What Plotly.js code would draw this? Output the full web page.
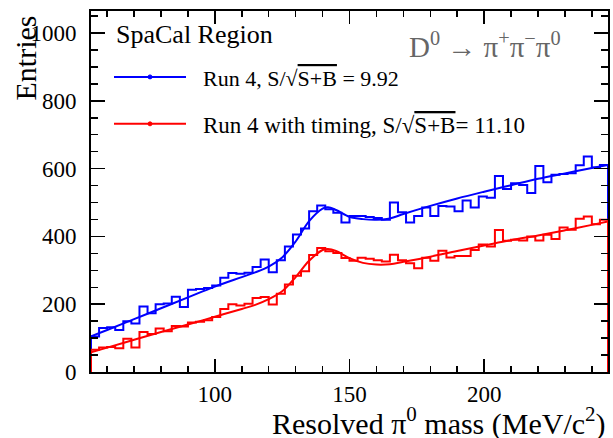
<!DOCTYPE html>
<html>
<head>
<meta charset="utf-8">
<script src="https://cdn.plot.ly/plotly-3.0.1.min.js"></script>
<style>html,body{margin:0;padding:0;background:#fff;}#chart{width:613px;height:438px;}</style>
</head>
<body>
<div id="chart"></div>
<script>
// Histogram binning (MeV/c^2)
const binLow = 54;
const binWidth = 3;
// Run 4 (blue) entries per bin
const run4Counts = [105,130,132,124,150,143,193,173,200,202,222,192,243,245,248,255,
  278,292,290,293,310,332,294,330,370,406,423,474,491,480,470,441,
  460,460,457,454,449,500,471,441,460,485,460,490,488,474,506,485,
  518,514,578,540,557,552,528,608,560,582,584,586,610,636,603,611];
// Run 4 with timing (red) entries per bin
const timingCounts = [66,72,74,70,98,72,118,112,128,120,136,134,146,148,153,162,
  186,200,196,201,218,221,199,231,258,284,297,345,366,356,351,336,
  328,337,334,330,326,346,330,321,306,337,328,358,338,342,342,360,
  376,370,419,387,390,388,400,388,405,392,426,420,452,459,436,449];
// Fit curves
const fitMass = [54,60,70,80,90,100,110,115,120,125,130,135,140,142,145,150,155,160,165,170,180,190,200,210,220,230,240,246];
const run4Fit = [105,124,156,188,220,252,280,294,311,338,385,445,482,486,478,458,451,449,453,466,490,512,532,551,570,586,602,611];
const timingFit = [58,72,95,118,140,163,186,198,215,238,280,328,360,363,357,336,322,317,318,325,340,357,373,389,403,418,434,444];
const legendLabels = ['Run 4, S/√<span style="text-decoration:overline">S+B</span> = 9.92',
                      'Run 4 with timing, S/√<span style="text-decoration:overline">S+B</span>= 11.10'];
const xTitle = 'Resolved π<sup>0</sup> mass (MeV/c<sup>2</sup>)';
const yTitle = 'Entries';
const regionLabel = 'SpaCal Region';
const decayLabel = 'D<sup>0</sup> → π<sup>+</sup>π<sup>−</sup>π<sup>0</sup>';

const BLUE = '#0000ff', RED = '#ff0000';
const FONT = 'Liberation Serif';

function stepXY(counts) {
  const xs = [binLow], ys = [0];
  counts.forEach((c, i) => { xs.push(binLow + i * binWidth); ys.push(c); });
  const hi = binLow + counts.length * binWidth;
  xs.push(hi); ys.push(counts[counts.length - 1]);
  xs.push(hi); ys.push(0);
  return {xs, ys};
}
const h1 = stepXY(run4Counts), h2 = stepXY(timingCounts);
const xMax = binLow + run4Counts.length * binWidth;

const traces = [
  {x: h1.xs, y: h1.ys, type: 'scatter', mode: 'lines', line: {shape: 'hv', color: BLUE, width: 2}, showlegend: false, hoverinfo: 'skip'},
  {x: h2.xs, y: h2.ys, type: 'scatter', mode: 'lines', line: {shape: 'hv', color: RED, width: 2}, showlegend: false, hoverinfo: 'skip'},
  {x: fitMass, y: run4Fit, type: 'scatter', mode: 'lines', line: {shape: 'spline', color: BLUE, width: 2}, showlegend: false},
  {x: fitMass, y: timingFit, type: 'scatter', mode: 'lines', line: {shape: 'spline', color: RED, width: 2}, showlegend: false}
];

const L = 91, R = 608, T = 11, B = 372.5;
const px = v => (v - L) / (R - L);
const py = v => (B - v) / (B - T);

const layout = {
  width: 613, height: 438,
  margin: {l: L, r: 613 - R, t: T, b: 438 - B, pad: 0},
  paper_bgcolor: '#fff', plot_bgcolor: '#fff',
  font: {family: FONT, color: '#000'},
  xaxis: {
    range: [binLow, xMax], tick0: 0, dtick: 50, ticks: 'inside', ticklen: 13, tickwidth: 1.5, tickcolor: '#000',
    minor: {dtick: 10, tick0: 0, ticks: 'inside', ticklen: 6, tickwidth: 1.5, tickcolor: '#000'},
    mirror: 'allticks', showline: true, linewidth: 2, linecolor: '#000',
    showgrid: false, zeroline: false, tickfont: {family: FONT, size: 23, color: '#000'}, ticklabelstandoff: 0
  },
  yaxis: {
    range: [0, 1065], tick0: 0, dtick: 200, ticks: 'inside', ticklen: 14, tickwidth: 1.5, tickcolor: '#000',
    minor: {dtick: 50, tick0: 0, ticks: 'inside', ticklen: 7, tickwidth: 1.5, tickcolor: '#000'},
    mirror: 'allticks', showline: true, linewidth: 2, linecolor: '#000',
    showgrid: false, zeroline: false, tickfont: {family: FONT, size: 23, color: '#000'}, ticklabelstandoff: 8
  },
  shapes: [
    {type: 'line', xref: 'paper', yref: 'paper', x0: px(114), x1: px(186), y0: py(77), y1: py(77), line: {color: BLUE, width: 2}},
    {type: 'circle', xref: 'paper', yref: 'paper', x0: px(148), x1: px(152), y0: py(79), y1: py(75), fillcolor: BLUE, line: {color: BLUE, width: 1}},
    {type: 'line', xref: 'paper', yref: 'paper', x0: px(114), x1: px(186), y0: py(124), y1: py(124), line: {color: RED, width: 2}},
    {type: 'circle', xref: 'paper', yref: 'paper', x0: px(148), x1: px(152), y0: py(126), y1: py(122), fillcolor: RED, line: {color: RED, width: 1}}
  ],
  annotations: [
    {text: regionLabel, xref: 'paper', yref: 'paper', x: px(114), y: py(35), xanchor: 'left', yanchor: 'middle', showarrow: false, font: {family: FONT, size: 26, color: '#000'}},
    {text: decayLabel, xref: 'paper', yref: 'paper', x: px(563), y: py(45), xanchor: 'right', yanchor: 'middle', showarrow: false, font: {family: FONT, size: 29, color: '#666'}},
    {text: legendLabels[0], xref: 'paper', yref: 'paper', x: px(201), y: py(79), xanchor: 'left', yanchor: 'middle', showarrow: false, font: {family: FONT, size: 22, color: '#000'}},
    {text: legendLabels[1], xref: 'paper', yref: 'paper', x: px(201), y: py(126), xanchor: 'left', yanchor: 'middle', showarrow: false, font: {family: FONT, size: 23, color: '#000'}},
    {text: xTitle, xref: 'paper', yref: 'paper', x: px(608), y: py(422), xanchor: 'right', yanchor: 'middle', showarrow: false, font: {family: FONT, size: 30, color: '#000'}},
    {text: yTitle, xref: 'paper', yref: 'paper', x: px(25), y: py(14), xanchor: 'center', yanchor: 'top', textangle: -90, showarrow: false, font: {family: FONT, size: 30, color: '#000'}}
  ],
  showlegend: false
};

Plotly.newPlot('chart', traces, layout, {staticPlot: true, displayModeBar: false});
</script>
</body>
</html>
